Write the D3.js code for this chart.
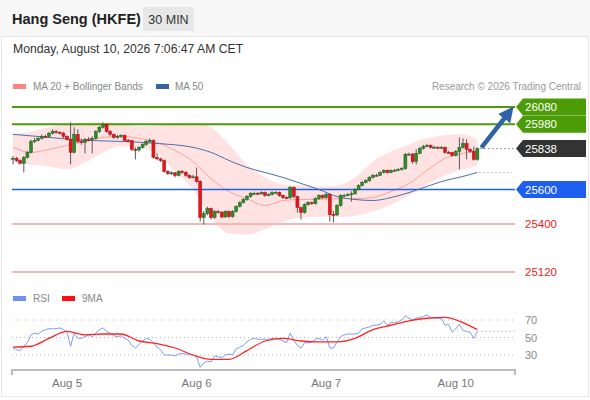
<!DOCTYPE html>
<html>
<head>
<meta charset="utf-8">
<script src="https://cdn.jsdelivr.net/npm/d3@7/dist/d3.min.js"></script>
<style>
  body { margin: 0; background: #fff; font-family: "Liberation Sans", Arial, sans-serif; }
</style>
</head>
<body>
<div id="plot"></div>
<script>
// 30 min candles, Aug 4 night -> Aug 10 morning
var opens = [25775,25781,25769,25752,25787,25816,25880,25886,25898,25909,
  25908,25927,25938,25932,25928,25909,25892,25816,25921,25880,
  25874,25892,25890,25898,25938,25962,25979,25938,25921,25903,
  25909,25915,25886,25884,25833,25830,25845,25862,25880,25885,
  25787,25778,25769,25705,25693,25697,25682,25705,25700,25682,
  25670,25674,25647,25437,25460,25489,25437,25472,25468,25440,
  25472,25442,25472,25501,25524,25542,25559,25577,25578,25575,
  25582,25565,25570,25582,25583,25565,25553,25552,25612,25559,
  25495,25466,25512,25524,25518,25547,25565,25553,25571,25454,
  25452,25507,25565,25566,25571,25575,25600,25623,25641,25652,
  25670,25682,25683,25699,25711,25699,25711,25712,25717,25722,
  25804,25806,25763,25810,25839,25851,25857,25845,25846,25844,
  25845,25816,25815,25798,25822,25845,25868,25833,25822,25775];
var closes = [25781,25769,25752,25787,25816,25880,25886,25898,25909,25908,
  25927,25938,25932,25928,25909,25892,25816,25921,25880,25874,
  25892,25890,25898,25938,25962,25979,25938,25921,25903,25909,
  25915,25886,25884,25833,25830,25845,25862,25880,25885,25787,
  25778,25769,25705,25693,25697,25682,25705,25700,25682,25670,
  25674,25647,25437,25460,25489,25437,25472,25468,25440,25472,
  25442,25472,25501,25524,25542,25559,25577,25578,25575,25582,
  25565,25570,25582,25583,25565,25553,25552,25612,25559,25495,
  25466,25512,25524,25518,25547,25565,25553,25571,25454,25452,
  25507,25565,25566,25571,25575,25600,25623,25641,25652,25670,
  25682,25683,25699,25711,25699,25711,25712,25717,25722,25804,
  25806,25763,25810,25839,25851,25857,25845,25846,25844,25845,
  25816,25815,25798,25822,25845,25868,25833,25822,25775,25838];
var highs = [25795,25790,25775,25795,25825,25890,25900,25905,25920,25918,
  25935,25950,25945,25940,25935,25915,25991,25962,25950,25895,
  25900,25905,25910,25945,25970,25991,25985,25945,25925,25918,
  25922,25920,25895,25890,25845,25852,25870,25888,25898,25892,
  25810,25785,25775,25712,25705,25702,25712,25712,25706,25688,
  25685,25728,25655,25475,25500,25495,25480,25480,25475,25480,
  25478,25480,25508,25532,25550,25568,25585,25588,25585,25590,
  25588,25578,25590,25590,25588,25570,25560,25620,25618,25565,
  25500,25520,25532,25530,25555,25572,25570,25580,25578,25475,
  25515,25572,25575,25580,25590,25608,25630,25650,25660,25678,
  25690,25692,25706,25718,25716,25718,25720,25724,25730,25812,
  25815,25812,25835,25848,25860,25866,25862,25855,25852,25853,
  25850,25825,25820,25830,25903,25898,25892,25840,25850,25845];
var lows = [25746,25760,25746,25699,25780,25810,25870,25880,25890,25900,
  25900,25920,25925,25920,25900,25885,25746,25810,25870,25860,
  25810,25880,25810,25890,25930,25955,25930,25910,25895,25895,
  25900,25880,25875,25825,25775,25820,25838,25855,25872,25780,
  25770,25760,25698,25685,25685,25670,25676,25692,25675,25662,
  25665,25640,25413,25396,25450,25425,25430,25460,25432,25435,
  25435,25436,25465,25495,25518,25535,25552,25570,25568,25570,
  25558,25560,25565,25575,25558,25545,25545,25545,25550,25466,
  25425,25460,25505,25510,25512,25540,25545,25545,25413,25407,
  25445,25500,25558,25560,25530,25570,25595,25618,25635,25645,
  25665,25675,25678,25693,25692,25694,25705,25706,25710,25715,
  25795,25750,25745,25805,25832,25846,25838,25838,25836,25837,
  25808,25808,25790,25792,25717,25838,25775,25812,25768,25768];

// indicator readings (sampled at candle indexes)
var bandIdx = [0,5,10,15,20,25,30,35,40,45,50,55,60,65,70,75,80,85,90,95,100,105,110,115,120,125,129];
var ma20 = [25845,25816,25833,25857,25880,25903,25909,25898,25874,25827,25763,25664,25588,25547,25507,25536,25542,25542,25547,25547,25553,25588,25635,25711,25781,25810,25827];
var bbUpper = [25921,25938,25962,25979,25991,25991,25985,25968,25973,25985,25991,25962,25862,25746,25670,25629,25623,25618,25623,25670,25763,25822,25862,25898,25915,25921,25892];
var bbLower = [25757,25746,25734,25717,25757,25816,25851,25845,25804,25705,25600,25437,25343,25337,25367,25413,25437,25442,25442,25448,25472,25512,25565,25629,25682,25717,25740];
var ma50Idx = [0,10,20,30,40,50,55,60,65,70,75,80,85,90,95,100,105,110,115,120,125,129];
var ma50 = [25921,25903,25886,25880,25868,25845,25816,25769,25728,25699,25670,25635,25600,25559,25542,25536,25553,25582,25618,25652,25676,25699];

var rsi = [38,36,35,40,44,53,55,54,57,59,
  60,60,60,61,59,56,40,55,49,49,
  51,53,51,55,59,61,57,55,52,51,
  52,49,47,41,38,42,46,49,48,44,
  39,36,30,30,30,29,31,32,31,31,
  30,28,16,21,23,22,29,28,27,30,
  31,30,37,39,41,45,48,49,48,48,
  48,48,49,49,48,46,44,55,47,41,
  38,44,44,45,48,49,47,51,38,38,
  45,51,53,54,54,54,55,60,61,62,
  64,64,65,69,64,67,67,68,70,75,
  72,70,72,73,74,76,73,72,72,72,
  64,65,56,60,65,58,57,56,49,57];
var rsiMa = [39,40,49,57,53,54,54,46,43,38,30,25,25,35,46,49,46,45,45,49,59,64,69,72,73,67,59];
var rsiTicks = [70,50,30];

var dayLabels = ["Aug 5","Aug 6","Aug 7","Aug 10"];
var dayIdx = [15,51,87,123];

var levels = [
  {v: 26080, kind: "res"},
  {v: 25980, kind: "res"},
  {v: 25838, kind: "last"},
  {v: 25600, kind: "pivot"},
  {v: 25400, kind: "sup"},
  {v: 25120, kind: "sup"}
];

var W = 590, H = 400;
var svg = d3.select("#plot").append("svg")
  .attr("width", W).attr("height", H)
  .style("font-family", "'Liberation Sans', Arial, sans-serif");

// header + card
svg.append("rect").attr("x", 0).attr("y", 0).attr("width", W).attr("height", 36).attr("fill", "#f7f7f7");
svg.append("rect").attr("x", 1.5).attr("y", 36.5).attr("width", W - 3).attr("height", 360)
  .attr("fill", "#fff").attr("stroke", "#e6e6e6");

svg.append("text").attr("x", 12).attr("y", 24).attr("font-size", 14.5).attr("font-weight", "bold")
  .attr("fill", "#222").text("Hang Seng (HKFE)");
svg.append("rect").attr("x", 143).attr("y", 7).attr("width", 51).attr("height", 24).attr("fill", "#e7e7e7");
svg.append("text").attr("x", 168.5).attr("y", 23.5).attr("text-anchor", "middle").attr("font-size", 12.5)
  .attr("fill", "#333").text("30 MIN");
svg.append("text").attr("x", 13).attr("y", 53).attr("font-size", 12.2).attr("fill", "#333")
  .text("Monday, August 10, 2026 7:06:47 AM CET");

// legend
svg.append("rect").attr("x", 13).attr("y", 84).attr("width", 13).attr("height", 5).attr("fill", "#ff8585");
svg.append("text").attr("x", 33).attr("y", 90).attr("font-size", 10).attr("fill", "#888").text("MA 20 + Bollinger Bands");
svg.append("rect").attr("x", 156).attr("y", 84).attr("width", 13).attr("height", 5).attr("fill", "#3a62a0");
svg.append("text").attr("x", 175).attr("y", 90).attr("font-size", 10).attr("fill", "#888").text("MA 50");
svg.append("text").attr("x", 581).attr("y", 90).attr("text-anchor", "end").attr("font-size", 10)
  .attr("fill", "#999").text("Research \u00a9 2026 Trading Central");

var x = d3.scaleLinear().domain([0, 129]).range([13, 477.4]);
var y = d3.scaleLinear().domain([25120, 26080]).range([272, 107]);
var plotRight = 515;

// bollinger band
var band = bandIdx.map(function(d, i) { return {i: d, hi: bbUpper[i], lo: bbLower[i], m: ma20[i]}; });
svg.append("path").datum(band)
  .attr("fill", "#ffe3e3")
  .attr("d", d3.area().curve(d3.curveMonotoneX)
    .x(function(d) { return x(d.i); }).y0(function(d) { return y(d.lo); }).y1(function(d) { return y(d.hi); }));
svg.append("path").datum(band)
  .attr("fill", "none").attr("stroke", "#ffa0a0").attr("stroke-width", 1)
  .attr("d", d3.line().curve(d3.curveMonotoneX).x(function(d) { return x(d.i); }).y(function(d) { return y(d.m); }));

// level lines
levels.forEach(function(l) {
  var yy = y(l.v);
  if (l.kind === "res") {
    svg.append("line").attr("x1", 12).attr("x2", plotRight).attr("y1", yy).attr("y2", yy)
      .attr("stroke", "#4c9c08").attr("stroke-width", 2);
  } else if (l.kind === "pivot") {
    svg.append("line").attr("x1", 12).attr("x2", plotRight).attr("y1", yy).attr("y2", yy)
      .attr("stroke", "#1d5ff0").attr("stroke-width", 1.3);
  } else if (l.kind === "sup") {
    svg.append("line").attr("x1", 12).attr("x2", plotRight).attr("y1", yy).attr("y2", yy)
      .attr("stroke", "#fbb4b4").attr("stroke-width", 2);
  }
});

// ma50
var ma50pts = ma50Idx.map(function(d, i) { return {i: d, v: ma50[i]}; });
svg.append("path").datum(ma50pts)
  .attr("fill", "none").attr("stroke", "#4b70ac").attr("stroke-width", 1)
  .attr("d", d3.line().curve(d3.curveMonotoneX).x(function(d) { return x(d.i); }).y(function(d) { return y(d.v); }));
svg.append("line").attr("x1", x(129) + 2).attr("x2", 512)
  .attr("y1", y(ma50[ma50.length - 1])).attr("y2", y(ma50[ma50.length - 1]))
  .attr("stroke", "#6b86b8").attr("stroke-dasharray", "1,3");

// candles
var candles = closes.map(function(c, i) { return {i: i, o: opens[i], h: highs[i], l: lows[i], c: c}; });
var cg = svg.append("g");
cg.selectAll("line.wick").data(candles).enter().append("line")
  .attr("x1", function(d) { return x(d.i); }).attr("x2", function(d) { return x(d.i); })
  .attr("y1", function(d) { return y(d.h); }).attr("y2", function(d) { return y(d.l); })
  .attr("stroke", "#5a5a5a").attr("stroke-width", 1);
cg.selectAll("rect").data(candles).enter().append("rect")
  .attr("x", function(d) { return x(d.i) - 1.5; })
  .attr("width", 3)
  .attr("y", function(d) { return y(Math.max(d.o, d.c)); })
  .attr("height", function(d) { return Math.max(1, Math.abs(y(d.o) - y(d.c))); })
  .attr("fill", function(d) { return d.c >= d.o ? "#2f8a2a" : "#e5141b"; })
  .attr("stroke", function(d) { return d.c >= d.o ? "#23611f" : "#b01015"; })
  .attr("stroke-width", 0.5);

// last price dotted
var last = closes[closes.length - 1];
svg.append("line").attr("x1", x(129) + 3).attr("x2", plotRight)
  .attr("y1", y(last)).attr("y2", y(last))
  .attr("stroke", "#444").attr("stroke-dasharray", "1,3");

// arrow to target
var defs = svg.append("defs");
defs.append("marker").attr("id", "ah").attr("viewBox", "0 0 10 10")
  .attr("refX", 3).attr("refY", 5).attr("markerWidth", 3.4).attr("markerHeight", 3.4)
  .attr("orient", "auto")
  .append("path").attr("d", "M0,0 L10,5 L0,10 z").attr("fill", "#2f62a6");
svg.append("line")
  .attr("x1", x(129) + 4).attr("y1", y(last) - 1)
  .attr("x2", 507).attr("y2", y(26080) + 8)
  .attr("stroke", "#2f62a6").attr("stroke-width", 4.5)
  .attr("marker-end", "url(#ah)");

// labels
levels.forEach(function(l) {
  var yy = y(l.v);
  if (l.kind === "sup") {
    svg.append("text").attr("x", 525).attr("y", yy + 4).attr("font-size", 11.5)
      .attr("fill", "#ee1c1c").text(l.v);
    return;
  }
  var col = l.kind === "res" ? "#4c9c08" : (l.kind === "last" ? "#333" : "#1d5ff0");
  svg.append("path")
    .attr("d", "M516," + yy + " L523," + (yy - 8.5) + " L586," + (yy - 8.5) + " L586," + (yy + 8.5) + " L523," + (yy + 8.5) + " Z")
    .attr("fill", col);
  svg.append("text").attr("x", 525).attr("y", yy + 4).attr("font-size", 11.5)
    .attr("fill", "#fff").text(l.v);
});

// RSI panel
var yr = d3.scaleLinear().domain([30, 70]).range([355, 320]);
svg.append("rect").attr("x", 13).attr("y", 296).attr("width", 13).attr("height", 5).attr("fill", "#6f8ff0");
svg.append("text").attr("x", 33).attr("y", 302).attr("font-size", 10).attr("fill", "#888").text("RSI");
svg.append("rect").attr("x", 62).attr("y", 296).attr("width", 13).attr("height", 5).attr("fill", "#ff1010");
svg.append("text").attr("x", 82).attr("y", 302).attr("font-size", 10).attr("fill", "#888").text("9MA");

rsiTicks.forEach(function(t) {
  svg.append("line").attr("x1", 12).attr("x2", plotRight).attr("y1", yr(t)).attr("y2", yr(t))
    .attr("stroke", "#bbb").attr("stroke-dasharray", "1,3");
  svg.append("text").attr("x", 525).attr("y", yr(t) + 4).attr("font-size", 11).attr("fill", "#888").text(t);
});

svg.append("path").datum(rsi)
  .attr("fill", "none").attr("stroke", "#7d9cf0").attr("stroke-width", 1)
  .attr("d", d3.line().x(function(d, i) { return x(i); }).y(function(d) { return yr(d); }));
svg.append("line").attr("x1", x(129)).attr("x2", plotRight)
  .attr("y1", yr(rsi[rsi.length - 1])).attr("y2", yr(rsi[rsi.length - 1]))
  .attr("stroke", "#7d9cf0").attr("stroke-dasharray", "1,3");
var rsiMaPts = bandIdx.map(function(d, i) { return {i: d, v: rsiMa[i]}; });
svg.append("path").datum(rsiMaPts)
  .attr("fill", "none").attr("stroke", "#ff2424").attr("stroke-width", 1.3)
  .attr("d", d3.line().curve(d3.curveMonotoneX).x(function(d) { return x(d.i); }).y(function(d) { return yr(d.v); }));

// time axis
svg.append("path").attr("d", "M12,375 L12,370 L515,370 L515,375")
  .attr("fill", "none").attr("stroke", "#bbb").attr("stroke-width", 2);
svg.selectAll("text.day").data(dayLabels).enter().append("text")
  .attr("x", function(d, i) { return x(dayIdx[i]); }).attr("y", 387)
  .attr("text-anchor", "middle").attr("font-size", 11.5).attr("fill", "#777")
  .text(function(d) { return d; });
</script>
</body>
</html>
